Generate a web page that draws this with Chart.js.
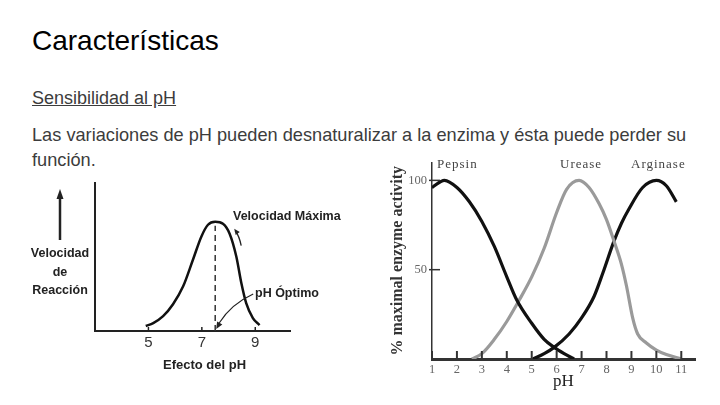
<!DOCTYPE html>
<html lang="es">
<head>
<meta charset="utf-8">
<title>Características</title>
<script src="https://cdn.jsdelivr.net/npm/chart.js@4.4.1/dist/chart.umd.min.js"></script>
<style>
  html, body { margin: 0; padding: 0; background: #fff; }
  body { width: 720px; height: 405px; position: relative; overflow: hidden; font-family: "Liberation Sans", Arial, sans-serif; }
  .txt { position: absolute; white-space: nowrap; line-height: 1; }
  #title { left: 32px; top: 27px; font-size: 28px; color: #000; }
  #subtitle { left: 32px; top: 89px; font-size: 18px; color: #3c3c3c; text-decoration: underline; }
  #para { left: 32px; top: 123px; font-size: 18.2px; line-height: 25px; color: #3c3c3c; }
  canvas { position: absolute; }
  #left-chart { left: 20px; top: 180px; }
  #right-chart { left: 380px; top: 150px; }
  .lbl { position: absolute; white-space: nowrap; line-height: 1; font-weight: bold; font-size: 12.5px; color: #222; }
  .ser { position: absolute; white-space: nowrap; line-height: 1; font-family: "Liberation Serif", "Times New Roman", serif; font-size: 13px; letter-spacing: 1px; color: #444; }
</style>
</head>
<body>
<div id="title" class="txt">Características</div>
<div id="subtitle" class="txt">Sensibilidad al pH</div>
<div id="para" class="txt">Las variaciones de pH pueden desnaturalizar a la enzima y ésta puede perder su<br>función.</div>

<canvas id="left-chart" width="340" height="200"></canvas>
<canvas id="right-chart" width="320" height="250"></canvas>

<!-- left chart annotations -->
<div class="lbl" style="left:30px; top:244px; width:60px; text-align:center; line-height:18.5px;">Velocidad<br>de<br>Reacción</div>
<div class="lbl" style="left:233px; top:210px;">Velocidad Máxima</div>
<div class="lbl" style="left:255px; top:287px;">pH Óptimo</div>
<div class="lbl" style="left:163px; top:358px; font-size:13px;">Efecto del pH</div>

<!-- right chart curve labels -->
<div class="ser" style="left:437px; top:157px;">Pepsin</div>
<div class="ser" style="left:560px; top:157px;">Urease</div>
<div class="ser" style="left:631px; top:157px;">Arginase</div>

<script>
// ---- left chart: generic pH effect curve ----
const leftPH = [4.90, 5.18, 5.55, 5.92, 6.30, 6.67, 6.98, 7.23, 7.5, 7.79, 8.04, 8.29, 8.48, 8.66, 8.91, 9.16];
const leftRate = [5, 8, 15, 27, 45, 72, 95, 107, 110, 108, 98, 75, 48, 28, 13, 6];
const leftTicks = [5, 7, 9];
const optimumPH = 7.5;

// ---- right chart: % maximal enzyme activity vs pH ----
const pepsinPH = [1, 1.5, 2, 2.5, 3, 3.5, 4, 4.4, 5, 5.5, 5.9, 6.3, 6.7];
const pepsinAct = [96, 100, 96, 88, 77, 63, 46, 33, 20, 11, 6.5, 3, 0];
const ureasePH = [2.6, 3, 3.5, 4, 4.5, 5, 5.5, 6, 6.4, 6.9, 7.3, 7.7, 8, 8.3, 8.6, 8.8, 9.05, 9.25, 9.6, 10, 10.4, 11];
const ureaseAct = [0, 3, 11, 21, 33, 46, 62, 82, 95, 100, 96, 87, 78, 66, 53, 41, 23, 14, 9, 5, 2.5, 0];
const arginasePH = [5.05, 5.5, 5.9, 6.5, 7, 7.5, 7.85, 8.3, 8.6, 8.9, 9.45, 10, 10.4, 10.8];
const arginaseAct = [0, 3, 6.5, 14, 23, 35, 48, 66, 76, 84, 96, 100, 97, 88];
const rightXTicks = [1, 2, 3, 4, 5, 6, 7, 8, 9, 10, 11];
const rightYTicks = [50, 100];

const serif = '"Liberation Serif", "Times New Roman", serif';
const sans = '"Liberation Sans", Arial, sans-serif';

function toPoints(xs, ys) {
  return xs.map((x, i) => ({ x: x, y: ys[i] }));
}

function arrowHead(ctx, x, y, angle, len, half) {
  ctx.save();
  ctx.translate(x, y);
  ctx.rotate(angle);
  ctx.beginPath();
  ctx.moveTo(0, 0);
  ctx.lineTo(-len, -half);
  ctx.lineTo(-len, half);
  ctx.closePath();
  ctx.fill();
  ctx.restore();
}

// Arrows and small inward ticks of the left drawing
const leftDecor = {
  id: 'leftDecor',
  afterDraw(chart) {
    const ctx = chart.ctx;
    const xs = chart.scales.x, ys = chart.scales.y;
    const area = chart.chartArea;
    ctx.save();
    ctx.strokeStyle = '#222';
    ctx.fillStyle = '#222';

    // inward tick marks
    ctx.lineWidth = 1.5;
    leftTicks.forEach(v => {
      const px = xs.getPixelForValue(v);
      ctx.beginPath();
      ctx.moveTo(px, area.bottom);
      ctx.lineTo(px, area.bottom - 4);
      ctx.stroke();
    });

    // arrow next to "Velocidad de Reacción"
    const ax = area.left - 35;
    ctx.lineWidth = 2.5;
    ctx.beginPath();
    ctx.moveTo(ax, area.top + 57);
    ctx.lineTo(ax, area.top + 14);
    ctx.stroke();
    arrowHead(ctx, ax, area.top + 6, -Math.PI / 2, 10, 3.5);

    // "Velocidad Máxima" arrow
    const peakX = xs.getPixelForValue(optimumPH);
    const peakY = ys.getPixelForValue(Math.max(...leftRate));
    ctx.lineWidth = 1.3;
    ctx.beginPath();
    ctx.moveTo(peakX + 26, peakY + 24);
    ctx.quadraticCurveTo(peakX + 24, peakY + 14, peakX + 20, peakY + 9);
    ctx.stroke();
    arrowHead(ctx, peakX + 19, peakY + 7, -2.2, 6, 2.5);

    // "pH Óptimo" arrow
    const bx = xs.getPixelForValue(optimumPH);
    const by = ys.getPixelForValue(0);
    ctx.lineWidth = 1.2;
    ctx.beginPath();
    ctx.moveTo(bx + 38, by - 37);
    ctx.quadraticCurveTo(bx + 16, by - 27, bx + 4, by - 8);
    ctx.stroke();
    arrowHead(ctx, bx + 1, by - 2, 2.1, 7, 3);
    ctx.restore();
  }
};

// Inward ticks of the right drawing
const rightDecor = {
  id: 'rightDecor',
  afterDraw(chart) {
    const ctx = chart.ctx;
    const xs = chart.scales.x, ys = chart.scales.y;
    const area = chart.chartArea;
    ctx.save();
    ctx.strokeStyle = '#333';
    ctx.lineWidth = 2;
    rightXTicks.forEach(v => {
      const px = xs.getPixelForValue(v);
      ctx.beginPath();
      ctx.moveTo(px, area.bottom);
      ctx.lineTo(px, area.bottom - 8);
      ctx.stroke();
    });
    ctx.lineWidth = 1.5;
    rightYTicks.forEach(v => {
      const py = ys.getPixelForValue(v);
      ctx.beginPath();
      ctx.moveTo(area.left - 3, py);
      ctx.lineTo(area.left + 8, py);
      ctx.stroke();
    });
    ctx.restore();
  }
};

new Chart(document.getElementById('left-chart'), {
  type: 'line',
  data: {
    datasets: [{
      data: toPoints(leftPH, leftRate),
      borderColor: '#111',
      borderWidth: 2.5,
      pointRadius: 0,
      cubicInterpolationMode: 'monotone'
    }, {
      data: [{ x: optimumPH, y: 0 }, { x: optimumPH, y: Math.max(...leftRate) - 4 }],
      borderColor: '#333',
      borderWidth: 1.5,
      borderDash: [6, 4],
      pointRadius: 0
    }]
  },
  options: {
    responsive: false,
    animation: false,
    layout: { padding: { top: 3, right: 70, left: 0, bottom: 0 } },
    plugins: { legend: { display: false }, tooltip: { enabled: false } },
    scales: {
      x: {
        type: 'linear', min: 3, max: 10.3,
        afterBuildTicks: s => { s.ticks = leftTicks.map(v => ({ value: v })); },
        grid: { display: false, drawTicks: false },
        border: { color: '#222', width: 2 },
        ticks: { font: { family: sans, size: 15 }, color: '#333', padding: 3 },
        afterFit: s => { s.height = 49; }
      },
      y: {
        min: 0, max: 149,
        ticks: { display: false },
        grid: { display: false, drawTicks: false },
        border: { color: '#222', width: 2 },
        afterFit: s => { s.width = 75; }
      }
    }
  },
  plugins: [leftDecor]
});

new Chart(document.getElementById('right-chart'), {
  type: 'line',
  data: {
    datasets: [
      { label: 'Pepsin', data: toPoints(pepsinPH, pepsinAct), borderColor: '#111', borderWidth: 3.2, pointRadius: 0, cubicInterpolationMode: 'monotone' },
      { label: 'Urease', data: toPoints(ureasePH, ureaseAct), borderColor: '#9a9a9a', borderWidth: 3.2, pointRadius: 0, cubicInterpolationMode: 'monotone' },
      { label: 'Arginase', data: toPoints(arginasePH, arginaseAct), borderColor: '#111', borderWidth: 3.2, pointRadius: 0, cubicInterpolationMode: 'monotone' }
    ]
  },
  options: {
    responsive: false,
    animation: false,
    layout: { padding: { top: 7, right: 5, left: 0, bottom: 0 } },
    plugins: { legend: { display: false }, tooltip: { enabled: false } },
    scales: {
      x: {
        type: 'linear', min: 1, max: 11.55,
        afterBuildTicks: s => { s.ticks = rightXTicks.map(v => ({ value: v })); },
        grid: { display: false, drawTicks: false },
        border: { color: '#333', width: 3 },
        ticks: { font: { family: serif, size: 12.5 }, color: '#666', padding: 3 },
        title: { display: true, text: 'pH', font: { family: serif, size: 17 }, color: '#222', padding: { top: 0, bottom: 8 } },
        afterFit: s => { s.height = 41; }
      },
      y: {
        min: 0, max: 110,
        afterBuildTicks: s => { s.ticks = rightYTicks.map(v => ({ value: v })); },
        grid: { display: false, drawTicks: false },
        border: { color: '#333', width: 1.5 },
        ticks: { font: { family: serif, size: 12.5 }, color: '#666', padding: 5 },
        title: { display: true, text: '% maximal enzyme activity', font: { family: serif, size: 16, weight: 'bold' }, color: '#333', padding: { top: 8, bottom: 0 } },
        afterFit: s => { s.width = 52; }
      }
    }
  },
  plugins: [rightDecor]
});
</script>
</body>
</html>
